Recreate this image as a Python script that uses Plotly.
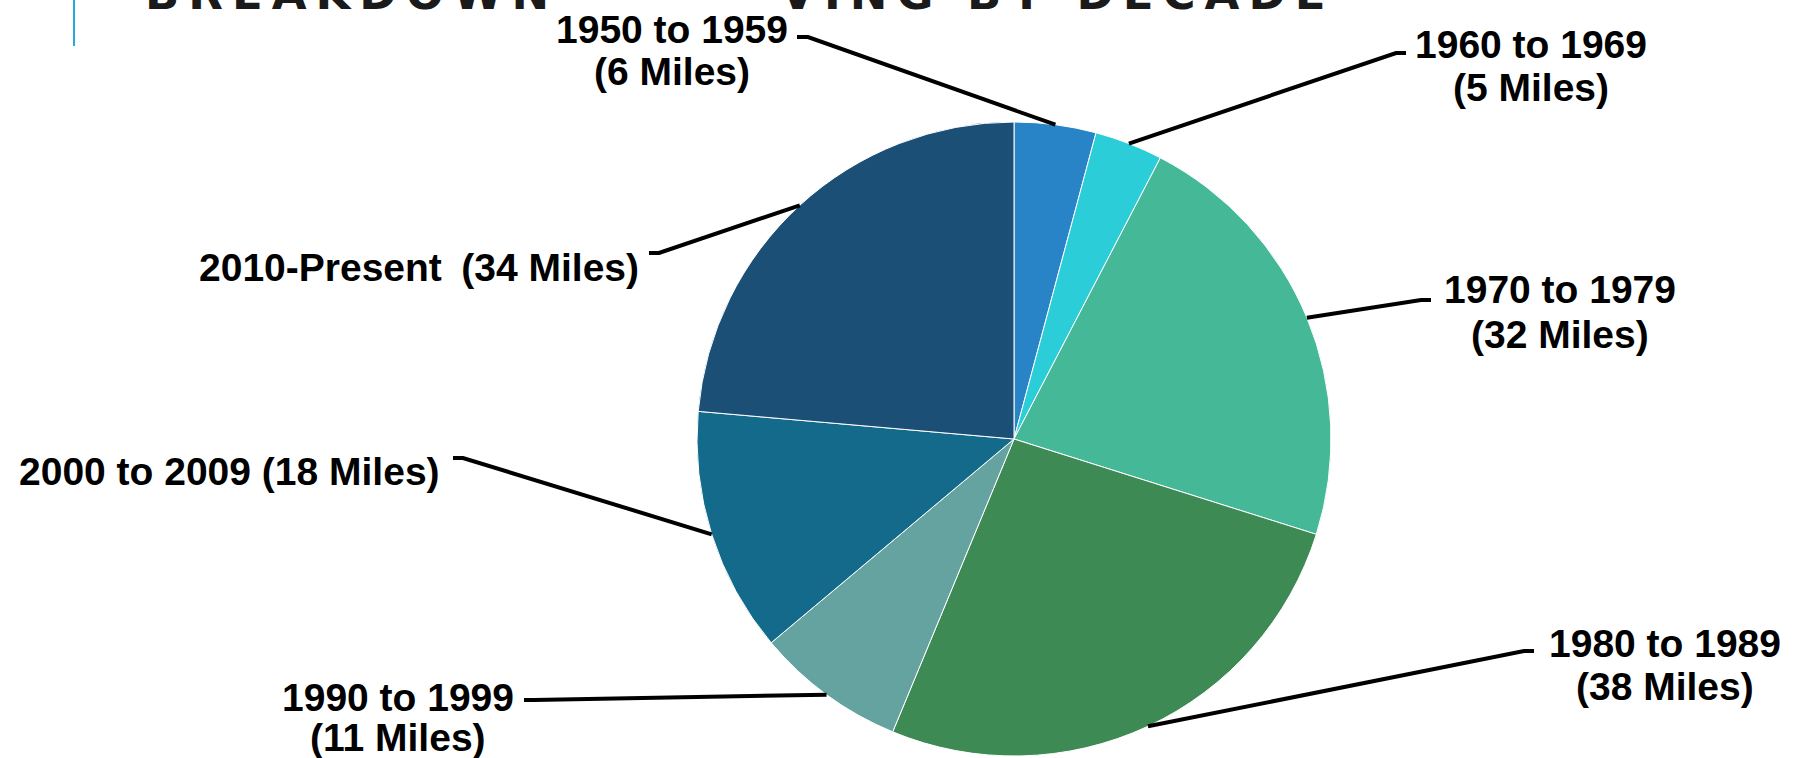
import math
import plotly.graph_objects as go

# ---- data ----
decades = ["1950 to 1959", "1960 to 1969", "1970 to 1979", "1980 to 1989",
           "1990 to 1999", "2000 to 2009", "2010-Present"]
miles = [6, 5, 32, 38, 11, 18, 34]
colors = ["#2884C6", "#2ACDD8", "#45B997", "#3E8A55", "#64A39F", "#136A8A", "#1B4F75"]
title_parts = ["BREAKDOWN", " OF PA", "VING BY DECADE"]  # middle part hidden behind label

# ---- layout geometry (pixels) ----
W, H = 1794, 758
CX, CY, R = 1014, 439, 317

def px(x):
    return x / W

def py(y):
    return 1 - y / H

# label placement: (x center, y of line 1, y of line 2 or None)
label_pos = [
    (672, 29, 71),
    (1531, 44, 87),
    (1560, 289, 334),
    (1665, 643, 686),
    (398, 697, 737),
    (229, 471, None),
    (419, 267, None),
]
# leader line start near the label, and elbow
leader_start = [
    ((797, 37), (808, 37)),
    ((1406, 53), (1396, 53)),
    ((1431, 300), (1421, 300)),
    ((1534, 651), (1524, 651)),
    ((524, 700), (534, 700)),
    ((453, 458), (463, 458)),
    ((649, 253), (659, 253)),
]

fig = go.Figure()
fig.add_trace(go.Pie(
    labels=decades, values=miles, sort=False, direction="clockwise", rotation=0,
    marker=dict(colors=colors, line=dict(color="white", width=1)),
    textinfo="none", hoverinfo="label+value", showlegend=False,
    domain=dict(x=[px(CX - R), px(CX + R)], y=[py(CY + R), py(CY - R)]),
))

# leader lines
total = sum(miles)
cum = 0
shapes = []
for i, v in enumerate(miles):
    mid = (cum + v / 2) / total * 2 * math.pi
    cum += v
    ex = CX + R * math.sin(mid)
    ey = CY - R * math.cos(mid)
    (x0, y0), (x1, y1) = leader_start[i]
    path = f"M {px(x0)} {py(y0)} L {px(x1)} {py(y1)} L {px(ex)} {py(ey)}"
    shapes.append(dict(type="path", xref="paper", yref="paper", path=path,
                       line=dict(color="black", width=4)))

# left accent line
shapes.append(dict(type="line", xref="paper", yref="paper",
                   x0=px(74), x1=px(74), y0=py(0), y1=py(46),
                   line=dict(color="#29A8E0", width=2)))

annotations = []
# title (only its bottom is visible at the top edge)
sp = lambda s: "\u2009".join(list(s))
title_html = (sp(title_parts[0]) + "\u2009" +
              '<span style="color:white">' + sp(title_parts[1]) + "</span>" + "\u2009" +
              sp(title_parts[2]))
annotations.append(dict(text=title_html, xref="paper", yref="paper", x=px(143), y=py(22),
                        xanchor="left", yanchor="bottom", showarrow=False,
                        font=dict(family="DejaVu Sans", size=45, color="#1a1a1a", weight="bold")))

lab_font = dict(family="Liberation Sans, Arial", size=39, color="black", weight="bold")
for i, (dec, v) in enumerate(zip(decades, miles)):
    xc, y1, y2 = label_pos[i]
    if y2 is None:
        gap = "\u2002" if dec.endswith("Present") else " "
        annotations.append(dict(text=f"{dec}{gap}({v} Miles)", xref="paper", yref="paper",
                                x=px(xc), y=py(y1), xanchor="center", yanchor="middle",
                                showarrow=False, font=lab_font))
    else:
        annotations.append(dict(text=dec, xref="paper", yref="paper",
                                x=px(xc), y=py(y1), xanchor="center", yanchor="middle",
                                showarrow=False, font=lab_font))
        annotations.append(dict(text=f"({v} Miles)", xref="paper", yref="paper",
                                x=px(xc), y=py(y2), xanchor="center", yanchor="middle",
                                showarrow=False, font=lab_font))

fig.update_layout(
    width=W, height=H, margin=dict(l=0, r=0, t=0, b=0),
    paper_bgcolor="white", plot_bgcolor="white",
    shapes=shapes, annotations=annotations,
)
fig.write_html("out.html")
